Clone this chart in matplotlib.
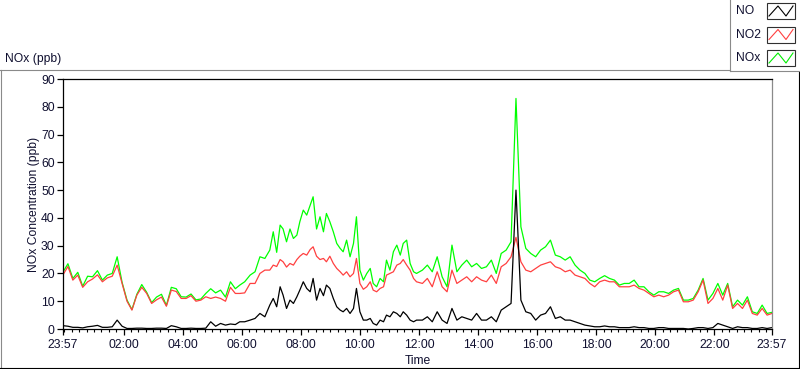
import numpy as np
import matplotlib
matplotlib.use('Agg')
import matplotlib.pyplot as plt
from matplotlib.patches import Rectangle

plt.rcParams['font.family'] = ['Liberation Sans', 'DejaVu Sans']

# minutes after 23:57 (denser readings through the busy morning)
t_min = (list(range(0, 360, 10))
         + [359, 369, 380, 390, 400, 410, 420, 427, 434, 441, 447, 454, 461,
            468, 475, 481, 488, 495, 502, 508, 515, 522, 529, 535, 542, 549,
            556, 563, 569, 576, 583, 590, 596, 603, 610, 617, 624, 630, 637,
            644, 651, 657, 664, 671, 678, 685, 691, 698, 705, 712, 718]
         + list(range(730, 1441, 10)))

no2 = [19.5, 22.5, 17.6, 19.4, 15.0, 17.0, 18.0, 19.5, 17.0, 18.4,
       19.0, 23.0, 16.4, 10.0, 6.8, 12.2, 15.0, 12.8, 9.2, 10.5,
       11.5, 8.2, 14.0, 13.5, 11.0, 11.0, 12.0, 10.0, 10.4, 11.6,
       11.0, 11.5, 11.0, 10.0, 15.0, 12.8,
       12.8, 13.0, 16.4, 16.4, 20.0, 21.2, 21.2, 23.0, 22.5, 25.0,
       24.2, 22.3, 23.6, 23.0, 25.0, 26.2, 27.2, 26.6, 28.6, 29.6,
       26.2, 25.0, 25.4, 24.2, 26.2, 23.6, 21.8, 20.6, 19.4, 20.6,
       18.8, 20.0, 25.4, 16.4, 14.3, 15.2, 17.0, 14.0, 13.4, 14.6,
       15.2, 19.4, 20.0, 20.6, 23.0, 23.6, 25.0, 23.0, 21.2, 18.2, 17.0,
       16.4, 18.2, 15.2, 20.6, 15.2, 13.4, 21.2,
       16.4, 17.6, 18.8, 17.0, 18.8, 17.6, 17.0, 19.4, 16.4, 22.4,
       23.6, 26.0, 33.0, 24.2, 21.2, 20.6, 21.8, 23.0, 23.6, 24.2,
       22.4, 21.8, 20.6, 21.2, 19.4, 18.8, 18.2, 16.4, 15.2, 17.0,
       17.6, 17.0, 17.0, 15.2, 15.2, 15.2, 15.8, 14.6, 14.0, 12.8,
       11.6, 12.2, 11.6, 12.2, 13.4, 14.0, 9.8, 9.8, 10.4, 13.4,
       17.6, 9.2, 11.0, 14.6, 10.4, 15.8, 7.4, 9.2, 7.4, 10.4,
       5.6, 5.0, 7.4, 5.0, 5.6]

nox = [20.5, 23.5, 18.2, 20.4, 15.4, 19.0, 18.8, 21.0, 17.6, 19.4,
       20.0, 26.0, 16.8, 10.4, 7.0, 12.5, 16.0, 13.2, 9.5, 11.5,
       12.5, 8.5, 15.0, 14.5, 11.6, 11.5, 12.6, 10.5, 10.8, 12.8,
       14.5, 13.0, 14.0, 11.5, 17.0, 14.5,
       15.8, 17.0, 19.4, 20.6, 26.0, 25.4, 28.4, 35.0, 27.6, 37.4,
       36.0, 31.4, 36.0, 32.6, 33.8, 38.6, 42.8, 41.0, 44.6, 47.6,
       36.0, 40.4, 35.0, 41.6, 38.6, 35.0, 30.8, 29.0, 27.8, 32.0,
       26.0, 30.8, 40.4, 21.2, 17.6, 20.0, 21.8, 16.4, 15.2, 18.2,
       17.0, 24.8, 21.2, 27.8, 30.2, 26.6, 30.8, 32.0, 23.6, 20.6, 20.0,
       21.2, 23.0, 20.6, 26.0, 18.8, 15.2, 30.2,
       20.6, 23.0, 24.8, 22.4, 23.6, 21.8, 22.4, 24.8, 20.0, 27.2,
       28.4, 31.4, 83.0, 36.8, 29.0, 27.2, 26.0, 28.4, 29.6, 32.0,
       26.6, 26.0, 24.8, 26.0, 23.0, 21.2, 20.0, 17.6, 17.0, 18.2,
       19.2, 18.2, 17.6, 15.8, 16.4, 16.4, 17.6, 15.2, 15.2, 13.4,
       12.2, 13.4, 13.4, 12.8, 14.0, 14.6, 10.4, 10.4, 11.0, 14.0,
       18.2, 10.4, 12.8, 16.4, 12.2, 16.4, 8.0, 10.4, 8.6, 11.6,
       6.2, 5.6, 8.6, 5.6, 6.0]

no = [1.2, 1.0, 0.6, 0.6, 0.4, 0.8, 1.0, 1.3, 0.6, 0.6,
      0.8, 3.2, 1.0, 0.2, 0.2, 0.3, 0.3, 0.2, 0.2, 0.3,
      0.3, 0.2, 1.2, 0.8, 0.2, 0.2, 0.3, 0.2, 0.2, 0.3,
      2.6, 1.0, 2.0, 1.4, 1.8, 1.6,
      2.6, 2.6, 3.2, 3.8, 5.6, 4.4, 8.6, 11.0, 8.0, 15.2,
      12.2, 7.4, 10.4, 9.2, 11.6, 14.0, 17.0, 14.6, 13.4, 18.2,
      10.4, 14.6, 12.0, 15.8, 14.6, 11.0, 8.0, 6.8, 6.2, 7.4,
      5.6, 7.4, 14.6, 6.2, 3.2, 3.2, 3.8, 2.0, 1.4, 3.2,
      2.6, 5.0, 4.4, 6.2, 5.6, 4.4, 6.2, 5.0, 3.2, 2.6, 3.2,
      3.2, 4.4, 2.6, 6.2, 3.2, 2.0, 7.4,
      3.2, 4.4, 3.8, 3.2, 5.6, 3.2, 3.2, 4.4, 2.6, 6.8,
      8.0, 9.2, 50.0, 10.4, 6.2, 5.6, 3.2, 5.0, 5.6, 8.0,
      3.8, 4.4, 3.2, 3.2, 2.6, 2.0, 1.4, 1.1, 0.8, 0.8,
      1.1, 0.8, 0.8, 0.5, 0.5, 0.5, 0.8, 0.5, 0.5, 0.2,
      0.2, 0.5, 0.5, 0.2, 0.2, 0.2, 0.2, 0.0, 0.2, 0.5,
      0.5, 0.2, 0.5, 2.0, 1.4, 0.8, 0.2, 0.8, 0.5, 0.5,
      0.2, 0.2, 0.5, 0.2, 0.5]

major_pos = [0, 123, 243, 363, 483, 603, 723, 843, 963, 1083, 1203, 1323, 1440]
major_lab = ['23:57', '02:00', '04:00', '06:00', '08:00', '10:00', '12:00',
             '14:00', '16:00', '18:00', '20:00', '22:00', '23:57']
minor_pos = np.arange(3, 1440, 15)

txt_col = '#101030'
fs = 8.7
W, H = 800, 369

fig = plt.figure(figsize=(W / 100, H / 100), dpi=100)

# background layer in pixel coords for the panel frame and legend
bg = fig.add_axes([0, 0, 1, 1])
bg.set_xlim(0, W)
bg.set_ylim(H, 0)
bg.axis('off')
gray = '#8a8a8a'
bg.plot([0, 730], [69.5, 69.5], color=gray, lw=0.8)
bg.plot([1, 1], [69.5, 368], color=gray, lw=0.8)
bg.plot([0, 799], [367.5, 367.5], color='black', lw=0.8)
bg.plot([798.5, 798.5], [72, 368], color='black', lw=0.8)
bg.plot([730, 730], [0, 71], color=gray, lw=0.8)
bg.plot([730, 800], [71, 71], color=gray, lw=0.8)

bg.text(5, 59, 'NOx (ppb)', fontsize=fs, color=txt_col, va='center', ha='left')

leg_names = ['NO', 'NO2', 'NOx']
leg_cols = ['black', '#ff4040', '#00ee00']
for i, (nm, c) in enumerate(zip(leg_names, leg_cols)):
    yc = 11 + i * 23.5
    bg.text(736, yc, nm, fontsize=fs, color=txt_col, va='center', ha='left')
    bg.add_patch(Rectangle((766.5, yc - 8), 28, 16, fill=False,
                           edgecolor='#303030', lw=0.8))
    bg.plot([769, 778, 786, 793], [yc + 5, yc - 5, yc + 5, yc - 5], color=c, lw=0.8)

bg.text(34, 204, 'NOx Concentration (ppb)', fontsize=fs, color=txt_col,
        rotation=90, va='center', ha='center')
bg.text(418, 361, 'Time', fontsize=fs, color=txt_col, va='center', ha='center')

# main plot area
ax = fig.add_axes([63 / W, 1 - 329 / H, (772 - 63) / W, 250 / H])
ax.plot(t_min, nox, color='#00ff00', lw=0.9)
ax.plot(t_min, no2, color='#ff4040', lw=0.9)
ax.plot(t_min, no, color='black', lw=0.9)

ax.set_xlim(0, 1440)
ax.set_ylim(0, 90)
ax.set_yticks(np.arange(0, 91, 10))
ax.set_xticks(major_pos)
ax.set_xticklabels(major_lab)
ax.set_xticks(minor_pos, minor=True)
ax.tick_params(axis='both', which='major', direction='out', length=4,
               width=0.9, labelsize=fs, labelcolor=txt_col, pad=2)
ax.tick_params(axis='x', which='major', length=4.5, pad=3)
ax.tick_params(axis='x', which='minor', direction='out', length=2.2, width=0.8)
for s in ['left', 'top', 'bottom']:
    ax.spines[s].set_color('black')
    ax.spines[s].set_linewidth(0.9)
ax.spines['right'].set_color(gray)
ax.spines['right'].set_linewidth(0.9)

fig.savefig('out.png', dpi=100)
